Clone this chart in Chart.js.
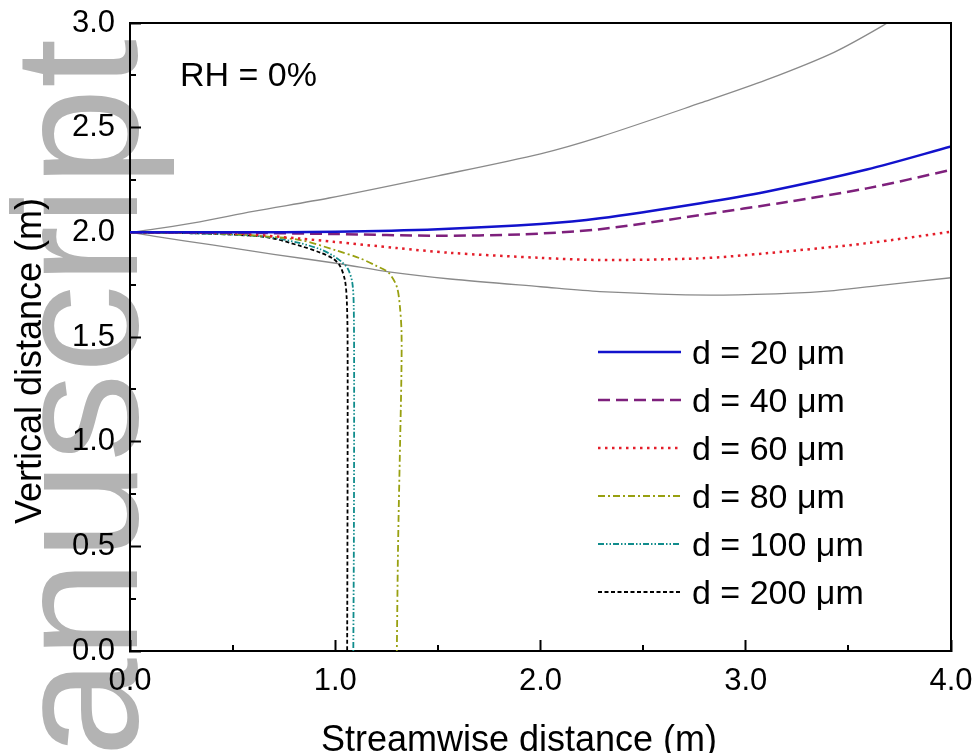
<!DOCTYPE html>
<html>
<head>
<meta charset="utf-8">
<title>Droplet trajectories, RH = 0%</title>
<script src="https://cdn.jsdelivr.net/npm/chart.js@4.4.1/dist/chart.umd.min.js"></script>
<style>
  html, body { margin: 0; padding: 0; background: #fff; }
  #chart { display: block; }
</style>
</head>
<body>
<canvas id="chart" width="979" height="753"></canvas>
<script>
// Tick values
const xTickValues = [0, 1, 2, 3, 4];
const yTickValues = [0, 0.5, 1, 1.5, 2, 2.5, 3];
const xMinorTicks = [0.5, 1.5, 2.5, 3.5];
const yMinorTicks = [0.25, 0.75, 1.25, 1.75, 2.25, 2.75];

// Droplet trajectories (streamwise x, vertical y)
const d20X = [0, 0.5, 1.0, 1.5, 2.0, 2.29, 2.78, 3.10, 3.59, 4.0];
const d20Y = [2.0, 2.0, 2.003, 2.015, 2.04, 2.067, 2.139, 2.194, 2.30, 2.41];

const d40X = [0, 0.5, 1.0, 1.5, 1.9, 2.29, 2.78, 3.2, 3.59, 4.0];
const d40Y = [2.0, 1.998, 1.992, 1.984, 1.99, 2.015, 2.083, 2.145, 2.21, 2.298];

const d60X = [0, 0.5, 0.83, 0.99, 1.3, 1.56, 2.0, 2.29, 2.78, 3.10, 3.59, 4.0];
const d60Y = [2.0, 1.995, 1.97, 1.955, 1.925, 1.902, 1.878, 1.868, 1.876, 1.90, 1.948, 2.003];

const d80X = [0, 0.4, 0.6, 0.83, 1.0, 1.12, 1.2, 1.26, 1.30, 1.315, 1.323, 1.322, 1.316, 1.306, 1.30];
const d80Y = [2.0, 1.995, 1.985, 1.963, 1.915, 1.876, 1.84, 1.807, 1.74, 1.645, 1.518, 1.3, 1.0, 0.5, 0.0];

const d100X = [0, 0.4, 0.67, 0.83, 0.93, 0.99, 1.03, 1.062, 1.083, 1.09, 1.092, 1.091, 1.088];
const d100Y = [2.0, 1.993, 1.978, 1.948, 1.918, 1.888, 1.86, 1.825, 1.76, 1.65, 1.3, 0.6, 0.0];

const d200X = [0, 0.4, 0.67, 0.83, 0.93, 0.99, 1.023, 1.047, 1.056, 1.06, 1.06, 1.058];
const d200Y = [2.0, 1.993, 1.976, 1.935, 1.902, 1.874, 1.84, 1.772, 1.68, 1.5, 0.8, 0.0];

// Grey envelope lines
const upperX = [0, 0.15, 0.34, 0.6, 0.97, 1.5, 2.0, 2.29, 2.78, 3.10, 3.43, 3.69, 3.8];
const upperY = [2.0, 2.02, 2.05, 2.1, 2.164, 2.27, 2.375, 2.456, 2.618, 2.728, 2.86, 3.0, 3.07];

const lowerX = [0, 0.13, 0.4, 0.7, 1.02, 1.27, 1.56, 2.0, 2.29, 2.83, 3.2, 3.43, 3.67, 4.0];
const lowerY = [2.0, 1.979, 1.94, 1.895, 1.85, 1.81, 1.777, 1.74, 1.717, 1.70, 1.708, 1.722, 1.748, 1.783];

const FONT = '"Liberation Sans", Arial, Helvetica, sans-serif';

function toPoints(xs, ys) {
    return xs.map((x, i) => ({ x: x, y: ys[i] }));
}

// First entries are drawn on top, so the grey lines go last
const series = [
    { label: 'd = 20 \u03bcm',  xs: d20X,  ys: d20Y,  color: '#1212cc', width: 2.5, dash: [] },
    { label: 'd = 40 \u03bcm',  xs: d40X,  ys: d40Y,  color: '#7e207c', width: 2.5, dash: [12, 6] },
    { label: 'd = 60 \u03bcm',  xs: d60X,  ys: d60Y,  color: '#e41e2a', width: 2.5, dash: [2.5, 4.5] },
    { label: 'd = 80 \u03bcm',  xs: d80X,  ys: d80Y,  color: '#98a010', width: 1.8, dash: [7, 3, 2, 3] },
    { label: 'd = 100 \u03bcm', xs: d100X, ys: d100Y, color: '#108c8c', width: 1.8, dash: [6, 2, 1.5, 2, 1.5, 2] },
    { label: 'd = 200 \u03bcm', xs: d200X, ys: d200Y, color: '#000000', width: 1.8, dash: [4, 2.5] },
    { label: '', xs: upperX, ys: upperY, color: '#8a8a8a', width: 1.3, dash: [], hidden: true },
    { label: '', xs: lowerX, ys: lowerY, color: '#8a8a8a', width: 1.3, dash: [], hidden: true }
];

const datasets = series.map(s => ({
    label: s.label,
    data: toPoints(s.xs, s.ys),
    showLine: true,
    borderColor: s.color,
    borderWidth: s.width,
    borderDash: s.dash,
    pointRadius: 0,
    tension: 0.3,
    fill: false,
    inLegend: !s.hidden
}));

// Watermark, frame, minor ticks, titles, annotation and legend
const paper = {
    id: 'paper',
    beforeDraw(chart) {
        const c = chart.ctx;
        c.save();
        c.fillStyle = '#ffffff';
        c.fillRect(0, 0, chart.width, chart.height);
        c.translate(137, 757);
        c.rotate(-Math.PI / 2);
        c.font = '177px ' + FONT;
        c.fillStyle = '#b3b3b3';
        c.textBaseline = 'alphabetic';
        c.fillText('anuscript', 0, 0);
        c.restore();
    },
    afterDraw(chart) {
        const c = chart.ctx;
        const area = chart.chartArea;
        const xs = chart.scales.x;
        const ys = chart.scales.y;
        c.save();

        // top and right frame
        c.strokeStyle = '#000';
        c.lineWidth = 2;
        c.beginPath();
        c.moveTo(area.left, area.top);
        c.lineTo(area.right, area.top);
        c.lineTo(area.right, area.bottom);
        c.stroke();

        // minor ticks
        xMinorTicks.forEach(v => {
            const px = Math.round(xs.getPixelForValue(v));
            c.beginPath();
            c.moveTo(px, area.bottom);
            c.lineTo(px, area.bottom - 6);
            c.stroke();
        });
        yMinorTicks.forEach(v => {
            const py = Math.round(ys.getPixelForValue(v));
            c.beginPath();
            c.moveTo(area.left, py);
            c.lineTo(area.left + 6, py);
            c.stroke();
        });

        // axis titles
        c.fillStyle = '#000';
        c.font = '36px ' + FONT;
        c.textAlign = 'center';
        c.textBaseline = 'alphabetic';
        c.fillText('Streamwise distance (m)', 519, 751);
        c.save();
        c.translate(41, 361);
        c.rotate(-Math.PI / 2);
        c.fillText('Vertical distance (m)', 0, 0);
        c.restore();

        // annotation
        c.font = '34px ' + FONT;
        c.textAlign = 'left';
        c.fillText('RH = 0%', 180, 86);

        // legend
        let row = 0;
        chart.data.datasets.forEach(ds => {
            if (!ds.inLegend) return;
            const y = 352 + row * 48;
            c.save();
            c.strokeStyle = ds.borderColor;
            c.lineWidth = ds.borderWidth;
            c.setLineDash(ds.borderDash);
            c.beginPath();
            c.moveTo(598, y);
            c.lineTo(681, y);
            c.stroke();
            c.restore();
            c.fillStyle = '#000';
            c.fillText(ds.label, 692, y + 12);
            row++;
        });
        c.restore();
    }
};

const tickFont = { family: FONT, size: 31 };

new Chart(document.getElementById('chart'), {
    type: 'scatter',
    data: { datasets: datasets },
    options: {
        responsive: false,
        animation: false,
        devicePixelRatio: 1,
        layout: { padding: { left: 0, right: 28, top: 23, bottom: 0 } },
        plugins: {
            legend: { display: false },
            tooltip: { enabled: false }
        },
        scales: {
            x: {
                type: 'linear',
                min: 0,
                max: 4,
                afterBuildTicks: axis => { axis.ticks = xTickValues.map(v => ({ value: v })); },
                afterFit: axis => {
                    axis.height = 102;
                    axis.paddingLeft = 0;
                    axis.paddingRight = 0;
                },
                ticks: {
                    font: tickFont,
                    color: '#000',
                    padding: 23,
                    maxRotation: 0,
                    callback: v => v.toFixed(1)
                },
                grid: {
                    drawOnChartArea: false,
                    drawTicks: true,
                    tickLength: -11,
                    tickWidth: 2,
                    tickColor: '#000'
                },
                border: { color: '#000', width: 2 }
            },
            y: {
                type: 'linear',
                min: 0,
                max: 3,
                afterBuildTicks: axis => { axis.ticks = yTickValues.map(v => ({ value: v })); },
                afterFit: axis => {
                    axis.width = 130;
                    axis.paddingTop = 0;
                    axis.paddingBottom = 0;
                },
                ticks: {
                    font: tickFont,
                    color: '#000',
                    padding: 26,
                    callback: v => v.toFixed(1)
                },
                grid: {
                    drawOnChartArea: false,
                    drawTicks: true,
                    tickLength: -11,
                    tickWidth: 2,
                    tickColor: '#000'
                },
                border: { color: '#000', width: 2 }
            }
        }
    },
    plugins: [paper]
});
</script>
</body>
</html>
